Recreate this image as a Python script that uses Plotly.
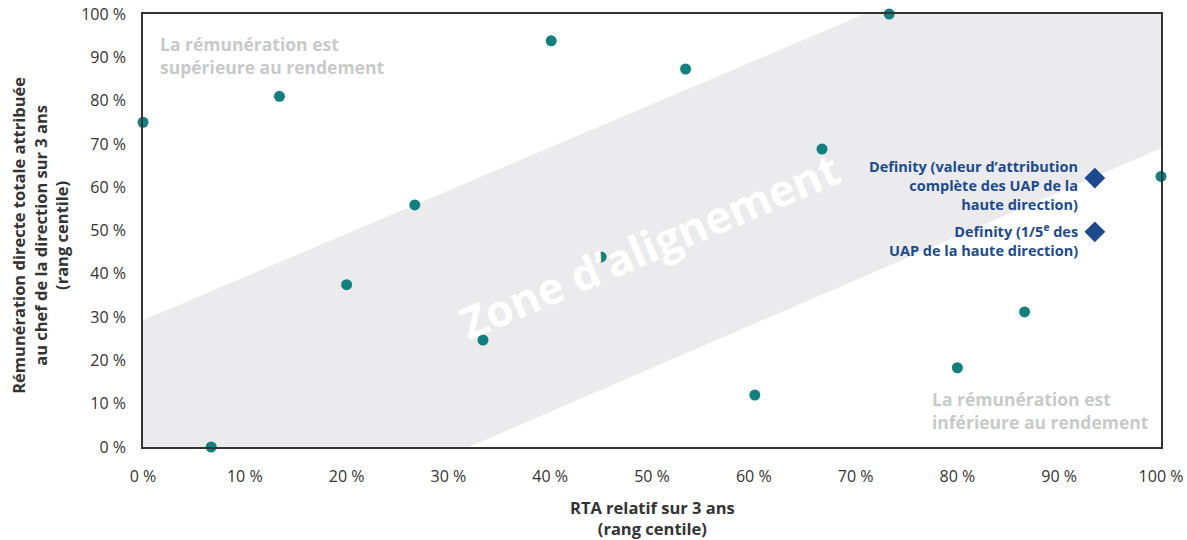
import plotly.graph_objects as go

# Data
rta_x = [0, 6.7, 13.4, 20.0, 26.7, 33.4, 40.1, 45.0, 53.3, 60.1, 66.7, 73.3, 80.0, 86.6, 100]
rdt_y = [75.0, 0.0, 81.0, 37.5, 55.9, 24.7, 93.8, 43.9, 87.3, 12.0, 68.8, 100.0, 18.3, 31.2, 62.5]

definity_x = [93.5, 93.5]
definity_y = [62.1, 49.7]
definity_labels = [
    "Definity (valeur d’attribution<br>complète des UAP de la<br>haute direction)",
    "Definity (1/5<sup>e</sup> des<br>UAP de la haute direction)",
]

band_x = [0, 0, 70.9, 100, 100, 32, 0]
band_y = [0, 29.3, 100, 100, 69, 0, 0]

x_ticks = list(range(0, 101, 10))
y_ticks = list(range(0, 101, 10))

FONT = "Open Sans"
TEAL = "#12807f"
NAVY = "#1c4a8d"
GRAY_TXT = "#c9c9cb"
DARK = "#333333"

fig = go.Figure()

fig.add_trace(go.Scatter(
    x=band_x, y=band_y, mode="lines", fill="toself",
    fillcolor="#ebebed", line=dict(width=0), hoverinfo="skip", showlegend=False,
))

fig.add_trace(go.Scatter(
    x=rta_x, y=rdt_y, mode="markers",
    marker=dict(color=TEAL, size=11, line=dict(width=0)),
    showlegend=False, cliponaxis=False,
))

fig.add_trace(go.Scatter(
    x=definity_x, y=definity_y, mode="markers",
    marker=dict(color=NAVY, size=16, symbol="diamond", line=dict(width=0)),
    showlegend=False, cliponaxis=False,
))

annotations = [
    dict(x=49.8, y=46.6, xref="x", yref="y", text="<b>Zone d’alignement</b>",
         showarrow=False, textangle=-23,
         font=dict(family=FONT, size=44, color="white")),
    dict(x=1.5, y=96.3, xref="x", yref="y", xanchor="left", yanchor="top",
         text="<b>La rémunération est<br>supérieure au rendement</b>", align="left",
         showarrow=False, font=dict(family=FONT, size=17.5, color=GRAY_TXT)),
    dict(x=77.3, y=14.4, xref="x", yref="y", xanchor="left", yanchor="top",
         text="<b>La rémunération est<br>inférieure au rendement</b>", align="left",
         showarrow=False, font=dict(family=FONT, size=17.5, color=GRAY_TXT)),
    dict(x=92.0, y=67.5, xref="x", yref="y", xanchor="right", yanchor="top",
         text=f"<b>{definity_labels[0]}</b>", align="right",
         showarrow=False, font=dict(family=FONT, size=14.5, color=NAVY)),
    dict(x=92.0, y=53.0, xref="x", yref="y", xanchor="right", yanchor="top",
         text=f"<b>{definity_labels[1]}</b>", align="right",
         showarrow=False, font=dict(family=FONT, size=14.5, color=NAVY)),
    # axis titles
    dict(x=0.5, y=-0.164, xref="paper", yref="paper", xanchor="center", yanchor="middle",
         text="<b>RTA relatif sur 3 ans<br>(rang centile)</b>", align="center",
         showarrow=False, font=dict(family=FONT, size=16.5, color=DARK)),
    dict(x=-0.1012, y=0.49, xref="paper", yref="paper", xanchor="center", yanchor="middle",
         text="<b>Rémunération directe totale attribuée<br>au chef de la direction sur 3 ans<br>(rang centile)</b>",
         align="center", textangle=-90,
         showarrow=False, font=dict(family=FONT, size=16.5, color=DARK)),
]

fig.update_layout(
    width=1187, height=540,
    margin=dict(l=143, r=26, t=14, b=93, autoexpand=False),
    paper_bgcolor="white", plot_bgcolor="white",
    font=dict(family=FONT, size=16, color=DARK),
    annotations=annotations,
    xaxis=dict(
        range=[0, 100], tickvals=x_ticks, ticktext=[f"{v} %" for v in x_ticks],
        showgrid=False, zeroline=False, showline=True, mirror=True,
        linecolor=DARK, linewidth=1.5, ticks="", ticklen=0, automargin=False,
        ticklabelstandoff=14,
        tickfont=dict(family=FONT, size=16, color=DARK),
    ),
    yaxis=dict(
        range=[0, 100], tickvals=y_ticks, ticktext=[f"{v} %" for v in y_ticks],
        showgrid=False, zeroline=False, showline=True, mirror=True,
        linecolor=DARK, linewidth=1.5, ticks="", ticklen=0, automargin=False,
        ticklabelstandoff=12,
        tickfont=dict(family=FONT, size=16, color=DARK),
    ),
)

fig.write_html(
    "out.html",
    config={"displayModeBar": False},
    post_script="document.body.style.margin='0';document.body.style.overflow='hidden';",
)
